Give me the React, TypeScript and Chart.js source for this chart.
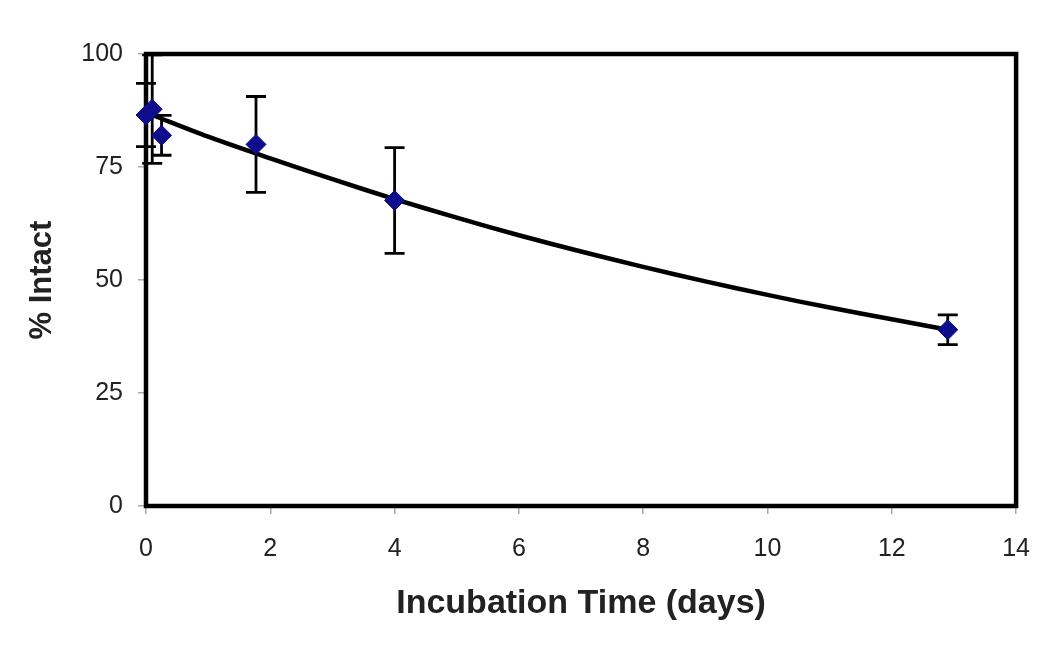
import React, { useEffect, useRef } from "react";
import { Chart, registerables } from "chart.js";

Chart.register(...registerables);

// Measured points (days, % intact) with symmetric error (±)
const pointDays = [0, 0.1, 0.25, 1.77, 4.0, 12.9];
const pointIntact = [86.5, 87.8, 82.0, 80.0, 67.6, 39.0];
const pointError = [7.0, 12.0, 4.4, 10.6, 11.7, 3.3];

// Fitted decay curve
const fitDays = [0.1, 1, 2, 3, 4, 5, 6, 7, 8, 9, 10, 11, 12, 12.9];
const fitIntact = [86.5, 81.7, 76.9, 72.3, 67.9, 63.8, 59.9, 56.3, 52.9, 49.7, 46.7, 43.9, 41.3, 39.0];

const xTicks = [0, 2, 4, 6, 8, 10, 12, 14];
const yTicks = [0, 25, 50, 75, 100];

const xTitle = "Incubation Time (days)";
const yTitle = "% Intact";

const frameAndErrors = {
  id: "frameAndErrors",
  beforeDatasetsDraw(chart: any) {
    const { ctx, chartArea } = chart;
    const xs = chart.scales.x;
    const ys = chart.scales.y;
    ctx.save();
    // frame
    ctx.strokeStyle = "#000";
    ctx.lineWidth = 4.5;
    ctx.strokeRect(chartArea.left, chartArea.top, chartArea.right - chartArea.left, chartArea.bottom - chartArea.top);
    // error bars
    ctx.beginPath();
    ctx.rect(chartArea.left - 20, chartArea.top, chartArea.right - chartArea.left + 40, chartArea.bottom - chartArea.top);
    ctx.clip();
    ctx.strokeStyle = "#000";
    ctx.lineWidth = 2.8;
    for (let i = 0; i < pointDays.length; i++) {
      const px = xs.getPixelForValue(pointDays[i]);
      const top = ys.getPixelForValue(pointIntact[i] + pointError[i]);
      const bot = ys.getPixelForValue(pointIntact[i] - pointError[i]);
      ctx.beginPath();
      ctx.moveTo(px, top);
      ctx.lineTo(px, bot);
      ctx.moveTo(px - 10, top);
      ctx.lineTo(px + 10, top);
      ctx.moveTo(px - 10, bot);
      ctx.lineTo(px + 10, bot);
      ctx.stroke();
    }
    ctx.restore();
  },
};

export default function App() {
  const ref = useRef<HTMLCanvasElement | null>(null);

  useEffect(() => {
    if (!ref.current) return;
    const chart = new Chart(ref.current, {
      type: "scatter",
      data: {
        datasets: [
          {
            label: "Measured",
            data: pointDays.map((d, i) => ({ x: d, y: pointIntact[i] })),
            pointStyle: "rectRot",
            pointRadius: 10,
            backgroundColor: "#0e0e8c",
            borderColor: "#0e0e8c",
            borderWidth: 1,
            showLine: false,
            clip: false as any,
            order: 1,
          },
          {
            label: "Fit",
            data: fitDays.map((d, i) => ({ x: d, y: fitIntact[i] })),
            showLine: true,
            borderColor: "#000",
            borderWidth: 4.5,
            pointRadius: 0,
            tension: 0.3,
            order: 2,
          },
        ],
      },
      options: {
        animation: false,
        responsive: true,
        maintainAspectRatio: false,
        layout: { padding: { top: 54, right: 33, left: 0, bottom: 0 } },
        plugins: { legend: { display: false }, tooltip: { enabled: false } },
        scales: {
          x: {
            type: "linear",
            min: 0,
            max: 14,
            afterFit: (s: any) => {
              s.height = 142;
            },
            afterBuildTicks: (s: any) => {
              s.ticks = xTicks.map((v) => ({ value: v }));
            },
            border: { display: false },
            grid: { drawOnChartArea: false, drawTicks: true, tickLength: 8, color: "#aaa", lineWidth: 1.5 },
            ticks: {
              padding: 20,
              color: "#222",
              font: { family: "'Liberation Sans', Arial, sans-serif", size: 25 },
              maxRotation: 0,
            },
            title: {
              display: true,
              text: xTitle,
              color: "#222",
              font: { family: "'Liberation Sans', Arial, sans-serif", size: 34, weight: "bold" },
              padding: { top: 0, bottom: 24 },
            },
          },
          y: {
            type: "linear",
            min: 0,
            max: 100,
            afterFit: (s: any) => {
              s.width = 146;
            },
            afterBuildTicks: (s: any) => {
              s.ticks = yTicks.map((v) => ({ value: v }));
            },
            border: { display: false },
            grid: { drawOnChartArea: false, drawTicks: true, tickLength: 8, color: "#aaa", lineWidth: 1.5 },
            ticks: {
              padding: 15,
              color: "#222",
              font: { family: "'Liberation Sans', Arial, sans-serif", size: 25 },
            },
            title: {
              display: true,
              text: yTitle,
              color: "#222",
              font: { family: "'Liberation Sans', Arial, sans-serif", size: 31, weight: "bold" },
              padding: { top: 24, bottom: 0 },
            },
          },
        },
      },
      plugins: [frameAndErrors],
    });
    return () => chart.destroy();
  }, []);

  return (
    <div style={{ position: "absolute", left: 0, top: 0, width: 1050, height: 648, background: "#fff" }}>
      <canvas ref={ref} />
    </div>
  );
}
